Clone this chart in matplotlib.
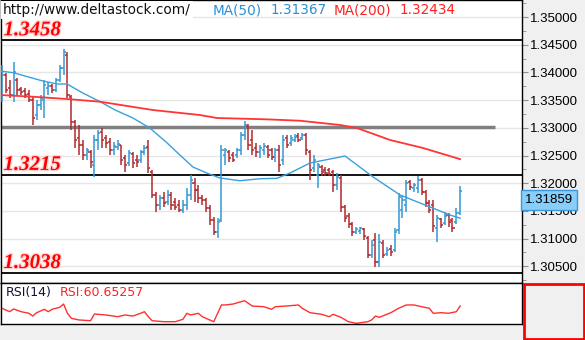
import numpy as np
import matplotlib.pyplot as plt
from matplotlib.patches import Rectangle
import matplotlib.patheffects as pe

# daily OHLC bars, oldest first
opens = [1.3359, 1.3395, 1.3372, 1.3359, 1.3386, 1.3370, 1.3366, 1.3361, 1.3350, 1.3323,
         1.3341, 1.3350, 1.3372, 1.3375, 1.3368, 1.3386, 1.3408, 1.3431, 1.3356, 1.3311,
         1.3282, 1.3269, 1.3251, 1.3256, 1.3233, 1.3278, 1.3293, 1.3282, 1.3274, 1.3260,
         1.3265, 1.3269, 1.3245, 1.3236, 1.3253, 1.3242, 1.3242, 1.3256, 1.3265, 1.3220,
         1.3179, 1.3161, 1.3173, 1.3166, 1.3179, 1.3166, 1.3161, 1.3152, 1.3161, 1.3179,
         1.3201, 1.3188, 1.3173, 1.3170, 1.3155, 1.3134, 1.3112, 1.3134, 1.3251, 1.3256,
         1.3251, 1.3251, 1.3260, 1.3287, 1.3303, 1.3278, 1.3263, 1.3256, 1.3260, 1.3265,
         1.3260, 1.3247, 1.3260, 1.3242, 1.3282, 1.3272, 1.3278, 1.3285, 1.3282, 1.3287,
         1.3256, 1.3227, 1.3215, 1.3229, 1.3224, 1.3224, 1.3220, 1.3197, 1.3209, 1.3157,
         1.3141, 1.3126, 1.3112, 1.3114, 1.3117, 1.3101, 1.3070, 1.3098, 1.3058, 1.3092,
         1.3072, 1.3081, 1.3079, 1.3116, 1.3152, 1.3161, 1.3202, 1.3191, 1.3191, 1.3206,
         1.3184, 1.3164, 1.3161, 1.3119, 1.3135, 1.3128, 1.3143, 1.3134, 1.3130, 1.3146]
highs = [1.3413, 1.3399, 1.3386, 1.3419, 1.3390, 1.3374, 1.3372, 1.3368, 1.3356, 1.3350,
         1.3359, 1.3386, 1.3383, 1.3379, 1.3390, 1.3413, 1.3442, 1.3437, 1.3359, 1.3314,
         1.3305, 1.3278, 1.3263, 1.3260, 1.3287, 1.3296, 1.3300, 1.3287, 1.3282, 1.3274,
         1.3278, 1.3269, 1.3251, 1.3260, 1.3256, 1.3251, 1.3260, 1.3269, 1.3278, 1.3224,
         1.3184, 1.3179, 1.3184, 1.3188, 1.3184, 1.3173, 1.3170, 1.3170, 1.3191, 1.3215,
         1.3209, 1.3197, 1.3179, 1.3173, 1.3161, 1.3139, 1.3137, 1.3269, 1.3263, 1.3260,
         1.3256, 1.3263, 1.3293, 1.3312, 1.3307, 1.3296, 1.3272, 1.3269, 1.3272, 1.3269,
         1.3263, 1.3263, 1.3269, 1.3287, 1.3287, 1.3287, 1.3289, 1.3291, 1.3291, 1.3291,
         1.3260, 1.3251, 1.3236, 1.3233, 1.3229, 1.3227, 1.3224, 1.3218, 1.3215, 1.3161,
         1.3146, 1.3130, 1.3121, 1.3121, 1.3119, 1.3105, 1.3098, 1.3110, 1.3108, 1.3098,
         1.3085, 1.3088, 1.3119, 1.3182, 1.3179, 1.3206, 1.3206, 1.3201, 1.3213, 1.3209,
         1.3188, 1.3170, 1.3170, 1.3143, 1.3137, 1.3148, 1.3146, 1.3137, 1.3155, 1.3195]
lows = [1.3347, 1.3363, 1.3354, 1.3347, 1.3359, 1.3359, 1.3354, 1.3347, 1.3305, 1.3314,
        1.3332, 1.3318, 1.3359, 1.3363, 1.3365, 1.3383, 1.3395, 1.3354, 1.3296, 1.3263,
        1.3251, 1.3242, 1.3242, 1.3227, 1.3211, 1.3260, 1.3263, 1.3263, 1.3251, 1.3251,
        1.3260, 1.3233, 1.3220, 1.3231, 1.3227, 1.3229, 1.3236, 1.3251, 1.3218, 1.3173,
        1.3148, 1.3152, 1.3157, 1.3161, 1.3152, 1.3152, 1.3148, 1.3146, 1.3152, 1.3170,
        1.3166, 1.3164, 1.3161, 1.3148, 1.3125, 1.3107, 1.3101, 1.3130, 1.3233, 1.3238,
        1.3238, 1.3245, 1.3251, 1.3278, 1.3260, 1.3251, 1.3247, 1.3245, 1.3251, 1.3245,
        1.3242, 1.3238, 1.3220, 1.3233, 1.3263, 1.3267, 1.3274, 1.3274, 1.3278, 1.3251,
        1.3206, 1.3220, 1.3191, 1.3213, 1.3213, 1.3213, 1.3184, 1.3188, 1.3148, 1.3130,
        1.3119, 1.3105, 1.3108, 1.3108, 1.3098, 1.3065, 1.3065, 1.3049, 1.3049, 1.3065,
        1.3069, 1.3069, 1.3076, 1.3108, 1.3137, 1.3148, 1.3188, 1.3184, 1.3182, 1.3179,
        1.3157, 1.3146, 1.3112, 1.3094, 1.3119, 1.3125, 1.3121, 1.3112, 1.3126, 1.3143]
closes = [1.3395, 1.3368, 1.3359, 1.3401, 1.3368, 1.3365, 1.3359, 1.3350, 1.3318, 1.3341,
          1.3354, 1.3377, 1.3375, 1.3368, 1.3386, 1.3408, 1.3437, 1.3359, 1.3311, 1.3278,
          1.3269, 1.3251, 1.3260, 1.3238, 1.3278, 1.3291, 1.3278, 1.3272, 1.3260, 1.3267,
          1.3271, 1.3242, 1.3233, 1.3254, 1.3236, 1.3238, 1.3256, 1.3263, 1.3227, 1.3179,
          1.3161, 1.3173, 1.3164, 1.3179, 1.3161, 1.3157, 1.3152, 1.3161, 1.3179, 1.3206,
          1.3188, 1.3173, 1.3170, 1.3155, 1.3134, 1.3112, 1.3130, 1.3260, 1.3260, 1.3245,
          1.3242, 1.3260, 1.3287, 1.3305, 1.3269, 1.3260, 1.3256, 1.3263, 1.3267, 1.3251,
          1.3247, 1.3260, 1.3233, 1.3278, 1.3269, 1.3282, 1.3283, 1.3278, 1.3287, 1.3260,
          1.3224, 1.3242, 1.3233, 1.3220, 1.3218, 1.3217, 1.3197, 1.3211, 1.3157, 1.3137,
          1.3126, 1.3112, 1.3117, 1.3119, 1.3105, 1.3070, 1.3088, 1.3058, 1.3094, 1.3070,
          1.3079, 1.3076, 1.3112, 1.3175, 1.3170, 1.3201, 1.3193, 1.3197, 1.3206, 1.3184,
          1.3164, 1.3152, 1.3123, 1.3137, 1.3125, 1.3141, 1.3130, 1.3119, 1.3146, 1.31859]

# moving averages (bar index, value)
ma50_x = [-0.5, 2.9, 10.6, 14.3, 16.9, 21.0, 25.5, 29.4, 34.0, 38.4, 42.9, 46.2, 49.6,
          53.2, 56.6, 61.8, 67.0, 71.4, 74.8, 80.0, 89.1, 96.4, 103.4, 111.2, 116.4, 119]
ma50_y = [1.34025, 1.33995, 1.33845, 1.33791, 1.33791, 1.33628, 1.33471, 1.33321, 1.33177,
          1.32996, 1.32726, 1.32509, 1.32292, 1.32184, 1.32094, 1.32045, 1.32081, 1.32088,
          1.32184, 1.32365, 1.32491, 1.32112, 1.31787, 1.31570, 1.31426, 1.31367]
ma200_x = [-0.5, 8.1, 16.9, 25.5, 39.2, 51.4, 55.8, 68.8, 77.4, 87.8, 92.2, 100.8, 109.4, 119]
ma200_y = [1.33592, 1.33561, 1.33520, 1.33471, 1.33321, 1.33231, 1.33177, 1.33153, 1.33128,
           1.33051, 1.32996, 1.32780, 1.32635, 1.32434]

# RSI(14) (bar index, value)
rsi_x = [0, 1, 2, 3, 5, 7, 8, 9, 11, 12, 13, 15, 16, 17, 18, 20, 23, 24, 27, 30, 32, 34,
         36, 37, 38, 39, 42, 45, 47, 48, 49, 51, 52, 55, 57, 58, 60, 63, 65, 68, 70, 71,
         74, 77, 78, 80, 83, 85, 86, 88, 90, 92, 95, 96, 97, 98, 101, 103, 105, 107, 109,
         111, 112, 114, 116, 118, 119]
rsi_y = [57.2, 54.6, 52.1, 56.2, 52.1, 49.7, 45.6, 50.6, 55.7, 52.1, 55.7, 58.7, 63.6,
         49.7, 42.2, 39.7, 38.6, 48.6, 47.2, 44.6, 47.2, 45.6, 49.7, 52.1, 44.6, 38.6,
         37.1, 37.1, 40.7, 49.7, 47.2, 49.7, 44.6, 37.1, 62.2, 62.2, 63.6, 68.6, 60.6,
         59.6, 55.7, 59.6, 60.7, 62.2, 57.2, 50.6, 48.2, 44.6, 48.2, 43.7, 37.1, 34.7,
         37.1, 39.7, 45.6, 43.7, 50.6, 57.2, 62.2, 62.2, 59.6, 57.2, 49.7, 50.6, 49.7,
         52.1, 60.65]

levels = [1.3458, 1.3215, 1.3038]
level_labels = ['1.3458', '1.3215', '1.3038']
gray_level = 1.3301

W, H = 585, 340


def box(x0, y0, x1, y1):
    return [x0 / W, 1 - y1 / H, (x1 - x0) / W, (y1 - y0) / H]


fig = plt.figure(figsize=(W / 100, H / 100), dpi=100, facecolor='#f0f0f0')
ax = fig.add_axes(box(1, 0, 522, 283))
rax = fig.add_axes(box(1, 283, 522, 324))

xlim = (-0.26, 135.06)
ax.set_xlim(*xlim)
ax.set_ylim(1.30199, 1.35307)
ax.set_xticks([])
ax.yaxis.tick_right()
ax.set_yticks(np.arange(1.305, 1.3501, 0.005))
ax.set_yticks(np.arange(1.3025, 1.353, 0.005), minor=True)
ax.set_yticklabels(['%.5f' % v for v in np.arange(1.305, 1.3501, 0.005)])
ax.tick_params(axis='y', which='major', length=4, color='#909090', pad=1.5,
               labelsize=9.5, labelfontfamily='Liberation Sans')
ax.tick_params(axis='y', which='minor', length=3, color='#909090')
ax.grid(axis='y', color='#e6e6e6', lw=1, zorder=0)
ax.set_axisbelow(True)
for s in ax.spines.values():
    s.set_color('black')
    s.set_linewidth(1)

up_c, dn_c = '#3399d4', '#b0282e'
x = np.arange(len(closes))
cols = [up_c if c >= o else dn_c for o, c in zip(opens, closes)]
ax.vlines(x, lows, highs, colors=cols, lw=1.1, zorder=3)
ax.hlines(opens, x - 0.55, x, colors=cols, lw=1.1, zorder=3)
ax.hlines(closes, x, x + 0.55, colors=cols, lw=1.1, zorder=3)

ax.plot(ma50_x, ma50_y, color='#3aa0dc', lw=1.0, zorder=4)
ax.plot(ma200_x, ma200_y, color='#ff3535', lw=1.3, zorder=4)

for lv in levels:
    ax.axhline(lv, color='black', lw=1.3, zorder=2)
ax.hlines(gray_level, xlim[0], 128, color='#808080', lw=2.5, zorder=2)

for lv, lab in zip(levels, level_labels):
    ax.text(0.005, lv, lab, transform=ax.get_yaxis_transform(), va='bottom', ha='left',
            color='#ff0000', fontsize=15, fontweight='bold', fontstyle='italic',
            family='Liberation Serif', zorder=5,
            path_effects=[pe.withStroke(linewidth=2, foreground='#ffd6d6')])

# header
fig.text(3 / W, 1 - 10 / H, 'http://www.deltastock.com/', fontsize=9.8, va='center',
         color='#111111', bbox=dict(fc='white', ec='none', pad=1.5))
fig.text(213 / W, 1 - 10 / H, 'MA(50)', fontsize=9.8, va='center', color='#2a8fd4')
fig.text(271 / W, 1 - 10 / H, '1.31367', fontsize=9.8, va='center', color='#2a8fd4')
fig.text(334 / W, 1 - 10 / H, 'MA(200)', fontsize=9.8, va='center', color='#ff2020')
fig.text(400 / W, 1 - 10 / H, '1.32434', fontsize=9.8, va='center', color='#ff2020')

ax.annotate('%.5f' % closes[-1], xy=(1.0, closes[-1]), xycoords=('axes fraction', 'data'),
            xytext=(2, -2), textcoords='offset points', ha='left', va='top',
            fontsize=9.5, family='Liberation Sans', annotation_clip=False, zorder=10,
            bbox=dict(boxstyle='square,pad=0.3', fc='#87cefa', ec='#3c96d8', lw=1))

# RSI panel
rax.set_xlim(*xlim)
rax.set_ylim(33.65, 95.15)
rax.set_xticks([])
rax.yaxis.tick_right()
rax.set_yticks([36.65, 54.65, 72.65])
rax.set_yticklabels([])
rax.tick_params(axis='y', length=3, color='#909090')
for s in rax.spines.values():
    s.set_color('black')
    s.set_linewidth(1)
rax.plot(rsi_x, rsi_y, color='#ff3030', lw=1.0)
rax.text(5 / 521, 0.76, 'RSI(14)', transform=rax.transAxes, fontsize=9, va='center',
         color='#111133')
rax.text(59 / 521, 0.76, 'RSI:60.65257', transform=rax.transAxes, fontsize=9,
         va='center', color='#ff2020')

fig.add_artist(Rectangle((524 / W, 1 - 339 / H), 60 / W, 55 / H, transform=fig.transFigure,
                         fc='#f0f0f0', ec='#ff0000', lw=2))

fig.savefig('out.png', dpi=100, facecolor=fig.get_facecolor())
